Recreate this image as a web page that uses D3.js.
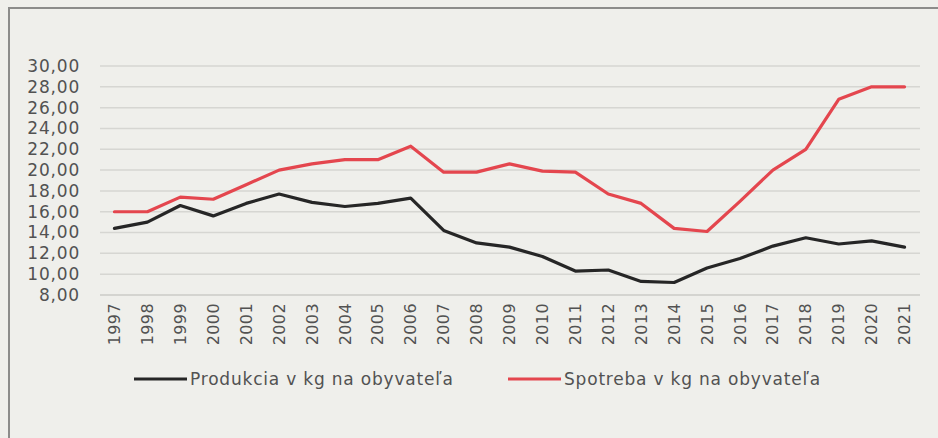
<!DOCTYPE html>
<html>
<head>
<meta charset="utf-8">
<script src="https://cdn.jsdelivr.net/npm/d3@7"></script>
<style>
  html, body { margin: 0; padding: 0; background: #efefeb; }
  svg { display: block; }
  text { font-family: "DejaVu Sans", sans-serif; fill: #525252; }
</style>
</head>
<body>
<script>
"use strict";
(function(){
    // data
    const years = ["1997","1998","1999","2000","2001","2002","2003","2004","2005","2006","2007","2008","2009",
                   "2010","2011","2012","2013","2014","2015","2016","2017","2018","2019","2020","2021"]
    const produkcia = [14.4, 15.0, 16.6, 15.6, 16.8, 17.7, 16.9, 16.5, 16.8, 17.3, 14.2, 13.0, 12.6,
                       11.7, 10.3, 10.4, 9.3, 9.2, 10.6, 11.5, 12.7, 13.5, 12.9, 13.2, 12.6]
    const spotreba = [16.0, 16.0, 17.4, 17.2, 18.6, 20.0, 20.6, 21.0, 21.0, 22.3, 19.8, 19.8, 20.6,
                      19.9, 19.8, 17.7, 16.8, 14.4, 14.1, 17.0, 20.0, 22.0, 26.8, 28.0, 28.0]
    const yTicks = [8, 10, 12, 14, 16, 18, 20, 22, 24, 26, 28, 30]
    const seriesNames = ["Produkcia v kg na obyvateľa", "Spotreba v kg na obyvateľa"]
    const seriesColors = ["#262626", "#e4464e"]

    const measurements = {
        width: 938,
        height: 438,
        left: 98,
        right: 921,
        top: 66,
        bottom: 295
    }

    let svgContainer = d3.select('body').append('svg')
        .attr('width', measurements.width)
        .attr('height', measurements.height)

    // frame (top and left edge of the printed box)
    svgContainer.append('path')
        .attr('d', 'M9,438 L9,8 L938,8')
        .attr('fill', 'none')
        .attr('stroke', '#8c8c8a')
        .attr('stroke-width', 2)

    let scaleX = d3.scaleBand()
        .domain(years)
        .range([measurements.left, measurements.right])

    let scaleY = d3.scaleLinear()
        .domain([8, 30])
        .range([measurements.bottom, measurements.top])

    // gridlines
    svgContainer.append('g')
        .selectAll('line')
        .data(yTicks)
        .enter()
        .append('line')
            .attr('x1', measurements.left + 2)
            .attr('x2', measurements.right - 1)
            .attr('y1', d => scaleY(d))
            .attr('y2', d => scaleY(d))
            .attr('stroke', d => d === 8 ? '#cbcbc7' : '#d6d6d2')
            .attr('stroke-width', 1.5)

    // y axis labels
    let yAxis = d3.axisLeft(scaleY)
        .tickValues(yTicks)
        .tickSize(0)
        .tickPadding(0)
        .tickFormat(d => d3.format(".2f")(d).replace(".", ","))
    let gy = svgContainer.append('g')
        .attr('transform', 'translate(80, 0)')
        .call(yAxis)
    gy.select('.domain').remove()
    gy.selectAll('text')
        .attr('font-size', 17)
        .attr('letter-spacing', 0.8)
        .style('font-family', '"DejaVu Sans", sans-serif')
        .attr('fill', '#525252')

    // x axis labels (rotated years)
    let xAxis = d3.axisBottom(scaleX).tickSize(0).tickPadding(0)
    let gx = svgContainer.append('g')
        .attr('transform', 'translate(0, 303)')
        .call(xAxis)
    gx.select('.domain').remove()
    gx.selectAll('text')
        .attr('font-size', 16)
        .attr('letter-spacing', 0.4)
        .style('font-family', '"DejaVu Sans", sans-serif')
        .attr('fill', '#525252')
        .attr('text-anchor', 'end')
        .attr('dy', '0.35em')
        .attr('y', 0)
        .attr('transform', 'rotate(-90)')

    // lines
    const line = d3.line()
        .x((d, i) => scaleX(years[i]) + scaleX.bandwidth() / 2)
        .y(d => scaleY(d))

    ;[produkcia, spotreba].forEach((series, i) => {
        svgContainer.append('path')
            .datum(series)
            .attr('d', line)
            .attr('fill', 'none')
            .attr('stroke', seriesColors[i])
            .attr('stroke-width', 3.2)
            .attr('stroke-linejoin', 'round')
            .attr('stroke-linecap', 'round')
    })

    // legend
    const legendX = [134, 508]
    let legend = svgContainer.append('g')
        .attr('transform', 'translate(0, 379)')
    seriesNames.forEach((name, i) => {
        legend.append('line')
            .attr('x1', legendX[i])
            .attr('x2', legendX[i] + 53)
            .attr('stroke', seriesColors[i])
            .attr('stroke-width', 3.2)
        legend.append('text')
            .attr('x', legendX[i] + 56)
            .attr('dy', '0.35em')
            .attr('font-size', 17)
            .attr('letter-spacing', 0.8)
            .text(name)
    })
})()
</script>
</body>
</html>
